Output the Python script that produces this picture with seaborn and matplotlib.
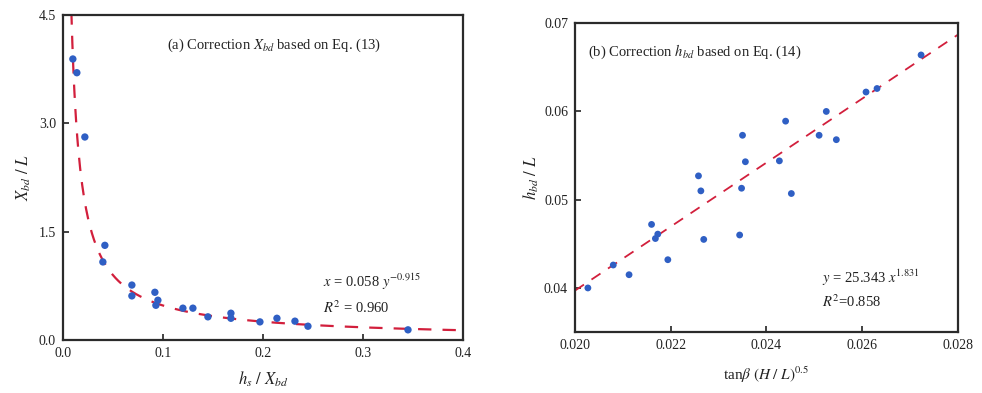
import numpy as np
import pandas as pd
import matplotlib
matplotlib.use("Agg")
import matplotlib.pyplot as plt
import seaborn as sns

# ---- Panel (a): X_bd / L versus h_s / X_bd ----
a_x = [0.010, 0.014, 0.022, 0.042, 0.040, 0.069, 0.069, 0.092, 0.095, 0.093,
       0.120, 0.130, 0.145, 0.168, 0.168, 0.197, 0.214, 0.232, 0.245, 0.345]
a_y = [3.89, 3.70, 2.81, 1.31, 1.08, 0.76, 0.61, 0.66, 0.55, 0.48,
       0.44, 0.44, 0.32, 0.37, 0.30, 0.25, 0.30, 0.26, 0.19, 0.14]
# power-law fit  y = a_coef * x ** a_exp
a_coef = 0.058
a_exp = -0.915
a_fit_range = [0.0085, 0.40]

# ---- Panel (b): h_bd / L versus tan(beta) (H/L)^0.5 ----
b_x = [0.02027, 0.0208, 0.02113, 0.0216, 0.02173, 0.02168, 0.02194, 0.02258,
       0.02263, 0.02269, 0.0235, 0.02356, 0.02348, 0.02344, 0.0244, 0.02427,
       0.02452, 0.0251, 0.02525, 0.02546, 0.02608, 0.02631, 0.02723]
b_y = [0.0400, 0.0426, 0.0415, 0.0472, 0.0461, 0.0456, 0.0432, 0.0527,
       0.0510, 0.0455, 0.0573, 0.0543, 0.0513, 0.0460, 0.0589, 0.0544,
       0.0507, 0.0573, 0.0600, 0.0568, 0.0622, 0.0626, 0.0664]
# fitted trend line end points
b_fit_x = [0.0200, 0.0280]
b_fit_y = [0.0397, 0.0687]

sns.set_theme(style="ticks")
plt.rcParams["font.family"] = ["Liberation Serif", "DejaVu Serif"]
plt.rcParams["mathtext.fontset"] = "stix"
plt.rcParams["xtick.direction"] = "in"
plt.rcParams["ytick.direction"] = "in"

point_color = "#2f5fc4"
line_color = "#d21f3c"
spine_color = "#2b2b2b"
text_color = "#222222"

fig = plt.figure(figsize=(9.82, 3.93), dpi=100)
ax1 = fig.add_axes([0.064, 0.135, 0.4075, 0.827])
ax2 = fig.add_axes([0.5855, 0.155, 0.390, 0.786])

# panel (a)
df_a = pd.DataFrame({"x": a_x, "y": a_y})
xf = np.linspace(a_fit_range[0], a_fit_range[1], 400)
df_a_fit = pd.DataFrame({"x": xf, "y": a_coef * xf ** a_exp})
sns.lineplot(data=df_a_fit, x="x", y="y", ax=ax1, color=line_color,
             linewidth=1.6, sort=False)
ax1.lines[-1].set_dashes([6, 5])
sns.scatterplot(data=df_a, x="x", y="y", ax=ax1, color=point_color, s=28,
                edgecolor="none", zorder=3)
ax1.set_xlim(0, 0.4)
ax1.set_ylim(0, 4.5)
ax1.set_xticks([0.0, 0.1, 0.2, 0.3, 0.4])
ax1.set_xticklabels(["0.0", "0.1", "0.2", "0.3", "0.4"])
ax1.set_yticks([0.0, 1.5, 3.0, 4.5])
ax1.set_yticklabels(["0.0", "1.5", "3.0", "4.5"])
ax1.set_xlabel(r"$h_s\ /\ X_{bd}$", fontsize=12, color=text_color, labelpad=7)
ax1.set_ylabel(r"$X_{bd}\ /\ L$", fontsize=12, color=text_color, labelpad=4)
ax1.text(0.26, 0.908, r"(a) Correction $X_{bd}$ based on Eq. (13)",
         transform=ax1.transAxes, fontsize=10.5, color=text_color, va="center")
ax1.text(0.65, 0.178, r"$x$ = 0.058 $y^{-0.915}$", transform=ax1.transAxes,
         fontsize=10.5, color=text_color, va="center")
ax1.text(0.65, 0.098, r"$R^2$ = 0.960", transform=ax1.transAxes,
         fontsize=10.5, color=text_color, va="center")

# panel (b)
df_b = pd.DataFrame({"x": b_x, "y": b_y})
df_b_fit = pd.DataFrame({"x": b_fit_x, "y": b_fit_y})
sns.lineplot(data=df_b_fit, x="x", y="y", ax=ax2, color=line_color,
             linewidth=1.3, sort=False)
ax2.lines[-1].set_dashes([6, 5])
sns.scatterplot(data=df_b, x="x", y="y", ax=ax2, color=point_color, s=24,
                edgecolor="none", zorder=3)
ax2.set_xlim(0.020, 0.028)
ax2.set_ylim(0.035, 0.070)
ax2.set_xticks([0.020, 0.022, 0.024, 0.026, 0.028])
ax2.set_xticklabels(["0.020", "0.022", "0.024", "0.026", "0.028"])
ax2.set_yticks([0.04, 0.05, 0.06, 0.07])
ax2.set_yticklabels(["0.04", "0.05", "0.06", "0.07"])
ax2.set_xlabel(r"tan$\beta$ $(H\ /\ L)^{0.5}$", fontsize=11, color=text_color,
               labelpad=9)
ax2.set_ylabel(r"$h_{bd}\ /\ L$", fontsize=12, color=text_color, labelpad=2)
ax2.text(0.034, 0.906, r"(b) Correction $h_{bd}$ based on Eq. (14)",
         transform=ax2.transAxes, fontsize=10.5, color=text_color, va="center")
ax2.text(0.645, 0.175, r"$y$ = 25.343 $x^{1.831}$", transform=ax2.transAxes,
         fontsize=10.5, color=text_color, va="center")
ax2.text(0.645, 0.097, r"$R^2$=0.858", transform=ax2.transAxes,
         fontsize=10.5, color=text_color, va="center")

for ax in (ax1, ax2):
    for sp in ax.spines.values():
        sp.set_visible(True)
        sp.set_color(spine_color)
        sp.set_linewidth(1.6)
    ax.tick_params(axis="both", labelsize=10, colors=text_color,
                   length=4, width=1.2, pad=5)

fig.savefig("out.png", dpi=100)
